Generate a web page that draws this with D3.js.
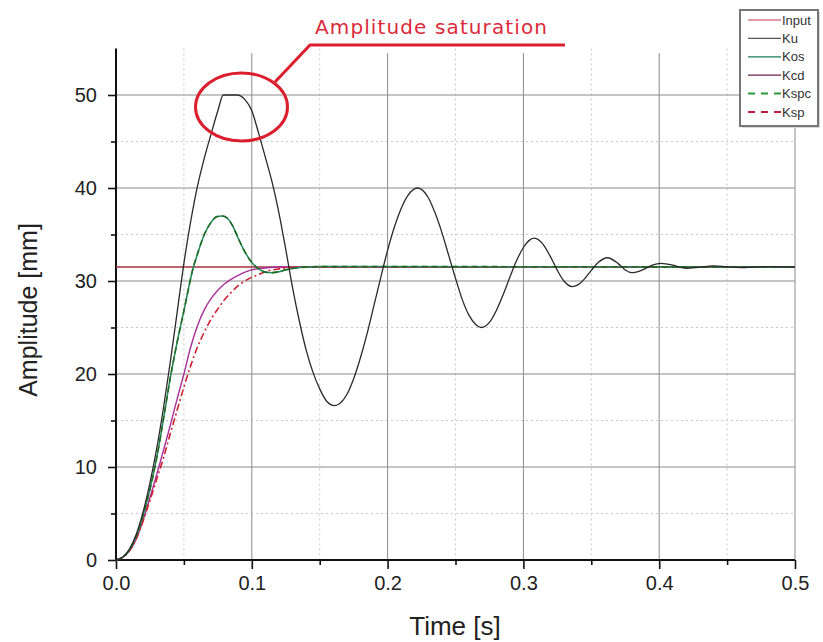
<!DOCTYPE html>
<html>
<head>
<meta charset="utf-8">
<script src="https://cdn.jsdelivr.net/npm/d3@7"></script>
<style>
  html, body { margin: 0; padding: 0; background: #fff; }
  svg { display: block; }
</style>
</head>
<body>
<svg id="chart" width="823" height="642"></svg>
<script>
// Step responses of the controller variants, amplitude [mm] over time [s]
const inputT = [0, 0.5];
const inputV = [31.5, 31.5];

const kuT = [0, 0.005, 0.01, 0.015, 0.02, 0.025, 0.03, 0.035, 0.04, 0.045, 0.05, 0.055, 0.06, 0.065, 0.07, 0.075,
  0.079, 0.089, 0.095, 0.1, 0.105, 0.11, 0.115, 0.12, 0.125, 0.13, 0.135, 0.14, 0.145, 0.15, 0.155, 0.161,
  0.165, 0.17, 0.175, 0.18, 0.185, 0.19, 0.195, 0.2, 0.205, 0.21, 0.215, 0.222, 0.23, 0.235, 0.24, 0.245,
  0.25, 0.255, 0.26, 0.265, 0.269, 0.275, 0.28, 0.285, 0.29, 0.295, 0.3, 0.305, 0.308, 0.315, 0.32, 0.325,
  0.33, 0.336, 0.34, 0.345, 0.35, 0.355, 0.362, 0.37, 0.375, 0.38, 0.385, 0.39, 0.395, 0.401, 0.41, 0.415,
  0.42, 0.43, 0.44, 0.45, 0.46, 0.47, 0.48, 0.5];
const kuV = [0, 0.3, 1.2, 2.8, 5.2, 8.3, 12.0, 16.4, 21.3, 26.6, 31.9, 36.4, 40.2, 43.2, 45.8, 48.3,
  50, 50, 49.5, 48.3, 45.9, 43.3, 40.6, 37.3, 33.4, 29.3, 25.7, 22.6, 20.2, 18.4, 17.1, 16.6,
  16.85, 17.8, 19.5, 21.75, 24.4, 27.4, 30.4, 33.3, 35.8, 37.8, 39.2, 40.0, 38.95, 37.3, 35.2, 32.75,
  30.3, 28.0, 26.3, 25.3, 25.0, 25.55, 26.8, 28.5, 30.4, 32.2, 33.6, 34.45, 34.6, 33.84, 32.6, 31.14,
  29.97, 29.4, 29.58, 30.23, 31.14, 31.98, 32.5, 31.84, 31.19, 30.9, 31.03, 31.36, 31.71, 31.9, 31.7, 31.5,
  31.37, 31.5, 31.62, 31.53, 31.45, 31.5, 31.55, 31.5];

const kosT = [0, 0.005, 0.01, 0.015, 0.02, 0.025, 0.03, 0.035, 0.04, 0.045, 0.05, 0.057, 0.06, 0.065, 0.07, 0.074,
  0.078, 0.082, 0.086, 0.09, 0.095, 0.1, 0.105, 0.11, 0.115, 0.12, 0.125, 0.13, 0.14, 0.15, 0.5];
const kosV = [0, 0.3, 1.1, 2.6, 4.8, 7.6, 11.0, 15.2, 19.6, 23.4, 26.8, 31.5, 32.9, 35.0, 36.3, 36.9,
  37.0, 36.75, 35.9, 34.6, 33.1, 32.0, 31.3, 30.95, 30.9, 31.0, 31.2, 31.35, 31.5, 31.55, 31.5];

const kcdT = [0, 0.005, 0.01, 0.015, 0.02, 0.025, 0.03, 0.035, 0.04, 0.045, 0.05, 0.055, 0.06, 0.065, 0.07, 0.075,
  0.08, 0.085, 0.09, 0.095, 0.1, 0.11, 0.12, 0.5];
const kcdV = [0, 0.3, 1.0, 2.3, 4.3, 6.7, 9.2, 11.8, 14.5, 17.3, 20.0, 22.9, 25.2, 26.9, 28.1, 29.0,
  29.7, 30.2, 30.6, 30.95, 31.2, 31.4, 31.5, 31.5];

const kspcT = [0, 0.005, 0.01, 0.015, 0.02, 0.025, 0.03, 0.035, 0.04, 0.045, 0.05, 0.057, 0.06, 0.065, 0.07, 0.074,
  0.078, 0.082, 0.086, 0.09, 0.095, 0.1, 0.105, 0.11, 0.115, 0.12, 0.125, 0.13, 0.14, 0.15, 0.5];
const kspcV = [0, 0.3, 1.1, 2.6, 4.8, 7.6, 11.0, 15.2, 19.6, 23.4, 26.8, 31.5, 32.9, 35.0, 36.3, 36.9,
  37.0, 36.75, 35.9, 34.6, 33.1, 32.0, 31.3, 30.95, 30.9, 31.0, 31.2, 31.35, 31.5, 31.55, 31.5];

const kspT = [0, 0.005, 0.01, 0.015, 0.02, 0.025, 0.03, 0.035, 0.04, 0.045, 0.05, 0.055, 0.06, 0.065, 0.07, 0.075,
  0.08, 0.085, 0.09, 0.095, 0.1, 0.105, 0.11, 0.12, 0.13, 0.14, 0.5];
const kspV = [0, 0.3, 1.0, 2.3, 4.2, 6.4, 8.7, 11.0, 13.6, 16.1, 18.6, 20.9, 22.9, 24.5, 25.9, 27.0,
  28.0, 28.8, 29.5, 30.0, 30.4, 30.7, 31.0, 31.3, 31.45, 31.5, 31.5];

const xTicks = [0, 0.1, 0.2, 0.3, 0.4, 0.5];
const xMinor = [0.05, 0.15, 0.25, 0.35, 0.45];
const yTicks = [0, 10, 20, 30, 40, 50];
const yMinor = [5, 15, 25, 35, 45];

const seriesNames = ["Input", "Ku", "Kos", "Kcd", "Kspc", "Ksp"];

const svg = d3.select("#chart");
const W = 823, H = 642;
svg.append("rect").attr("width", W).attr("height", H).attr("fill", "#fff");

const x = d3.scaleLinear().domain([0, 0.5]).range([116, 795]);
const y = d3.scaleLinear().domain([0, 55]).range([560, 48.5]);

const font = "'Liberation Sans', Arial, sans-serif";

// grid
const grid = svg.append("g");
grid.selectAll(".gxm").data(xMinor).join("line")
  .attr("x1", d => x(d)).attr("x2", d => x(d)).attr("y1", y(55)).attr("y2", y(0))
  .attr("stroke", "#c8c8c8").attr("stroke-width", 1).attr("stroke-dasharray", "2,3");
grid.selectAll(".gym").data(yMinor).join("line")
  .attr("x1", x(0)).attr("x2", x(0.5)).attr("y1", d => y(d)).attr("y2", d => y(d))
  .attr("stroke", "#c8c8c8").attr("stroke-width", 1).attr("stroke-dasharray", "2,3");
grid.selectAll(".gx").data(xTicks.slice(1)).join("line")
  .attr("x1", d => x(d)).attr("x2", d => x(d)).attr("y1", y(54.5)).attr("y2", y(0))
  .attr("stroke", "#8a8a8a").attr("stroke-width", 1);
grid.selectAll(".gy").data(yTicks.slice(1)).join("line")
  .attr("x1", x(0)).attr("x2", x(0.5)).attr("y1", d => y(d)).attr("y2", d => y(d))
  .attr("stroke", "#8a8a8a").attr("stroke-width", 1);

// axes
const xAxis = d3.axisBottom(x).tickValues(xTicks).tickFormat(d3.format(".1f")).tickSize(9).tickPadding(7);
const xAxisMinor = d3.axisBottom(x).tickValues(xMinor).tickFormat("").tickSize(5);
const yAxis = d3.axisLeft(y).tickValues(yTicks).tickFormat(d3.format("d")).tickSize(8).tickPadding(11);
const yAxisMinor = d3.axisLeft(y).tickValues(yMinor).tickFormat("").tickSize(5);

function styleAxis(g) {
  g.select(".domain").remove();
  g.selectAll("line").attr("stroke", "#111").attr("stroke-width", 1.6);
  g.selectAll("text").attr("fill", "#222").attr("font-family", font).attr("font-size", 20);
}
svg.append("g").attr("transform", `translate(0,${y(0)})`).call(xAxisMinor).call(styleAxis);
svg.append("g").attr("transform", `translate(0,${y(0)})`).call(xAxis).call(styleAxis);
svg.append("g").attr("transform", `translate(${x(0)},0)`).call(yAxisMinor).call(styleAxis);
svg.append("g").attr("transform", `translate(${x(0)},0)`).call(yAxis).call(styleAxis);

svg.append("line").attr("x1", x(0)).attr("x2", x(0.5)).attr("y1", y(0)).attr("y2", y(0))
  .attr("stroke", "#111").attr("stroke-width", 2);
svg.append("line").attr("x1", x(0)).attr("x2", x(0)).attr("y1", y(0) + 1).attr("y2", y(55))
  .attr("stroke", "#111").attr("stroke-width", 2);

// axis titles
svg.append("text").attr("x", 455).attr("y", 635).attr("text-anchor", "middle")
  .attr("font-family", font).attr("font-size", 26).attr("fill", "#222").text("Time [s]");
svg.append("text").attr("transform", "translate(37,310) rotate(-90)").attr("text-anchor", "middle")
  .attr("font-family", font).attr("font-size", 25).attr("fill", "#222").text("Amplitude [mm]");

// series
const styles = {
  Input: { t: inputT, v: inputV, color: "#a8303c", width: 1.6, dash: null, legendColor: "#d87a88" },
  Ku:    { t: kuT, v: kuV, color: "#2a2a2a", width: 1.3, dash: null, legendColor: "#555" },
  Kos:   { t: kosT, v: kosV, color: "#1f8a5a", width: 1.5, dash: null, legendColor: "#1f7a5a" },
  Kcd:   { t: kcdT, v: kcdV, color: "#a8309a", width: 1.4, dash: null, legendColor: "#6a2050" },
  Kspc:  { t: kspcT, v: kspcV, color: "#226a22", width: 1.6, dash: "6,4", legendColor: "#2a9a3a" },
  Ksp:   { t: kspT, v: kspV, color: "#d02030", width: 1.6, dash: "7,3,2,3", legendColor: "#c02040" }
};

const line = d3.line().x(d => x(d[0])).y(d => y(d[1])).curve(d3.curveMonotoneX);
const drawOrder = ["Input", "Kcd", "Ksp", "Kos", "Kspc", "Ku"];
const plot = svg.append("g");
drawOrder.forEach(name => {
  const s = styles[name];
  plot.append("path")
    .datum(s.t.map((t, i) => [t, s.v[i]]))
    .attr("fill", "none")
    .attr("stroke", s.color)
    .attr("stroke-width", s.width)
    .attr("stroke-dasharray", s.dash)
    .attr("d", line);
});

// annotation: callout around the clipped peak
const ann = svg.append("g");
ann.append("ellipse").attr("cx", 241.5).attr("cy", 107).attr("rx", 46).attr("ry", 34)
  .attr("fill", "none").attr("stroke", "#dc1f2e").attr("stroke-width", 3);
ann.append("polyline").attr("points", "275,82 310,45 565,45")
  .attr("fill", "none").attr("stroke", "#dc1f2e").attr("stroke-width", 3);
ann.append("text").attr("x", 315).attr("y", 34)
  .attr("font-family", "'DejaVu Sans', Verdana, sans-serif").attr("font-size", 20)
  .attr("textLength", 232).attr("lengthAdjust", "spacing")
  .attr("fill", "#dc2a3a").text("Amplitude saturation");

// legend
const lg = svg.append("g");
lg.append("rect").attr("x", 742).attr("y", 12).attr("width", 78).attr("height", 116).attr("fill", "#d8d8d8");
lg.append("rect").attr("x", 740).attr("y", 10).attr("width", 78).attr("height", 116)
  .attr("fill", "#fff").attr("stroke", "#777").attr("stroke-width", 2);
const ly = d3.scalePoint().domain(seriesNames).range([20, 112]);
seriesNames.forEach(name => {
  const s = styles[name];
  lg.append("line").attr("x1", 748).attr("x2", 781).attr("y1", ly(name)).attr("y2", ly(name))
    .attr("stroke", s.legendColor).attr("stroke-width", s.dash ? 2 : 1.3)
    .attr("stroke-dasharray", s.dash ? "7,6" : null);
  lg.append("text").attr("x", 782).attr("y", ly(name) + 4.5)
    .attr("font-family", font).attr("font-size", 13).attr("fill", "#333").text(name);
});
</script>
</body>
</html>
